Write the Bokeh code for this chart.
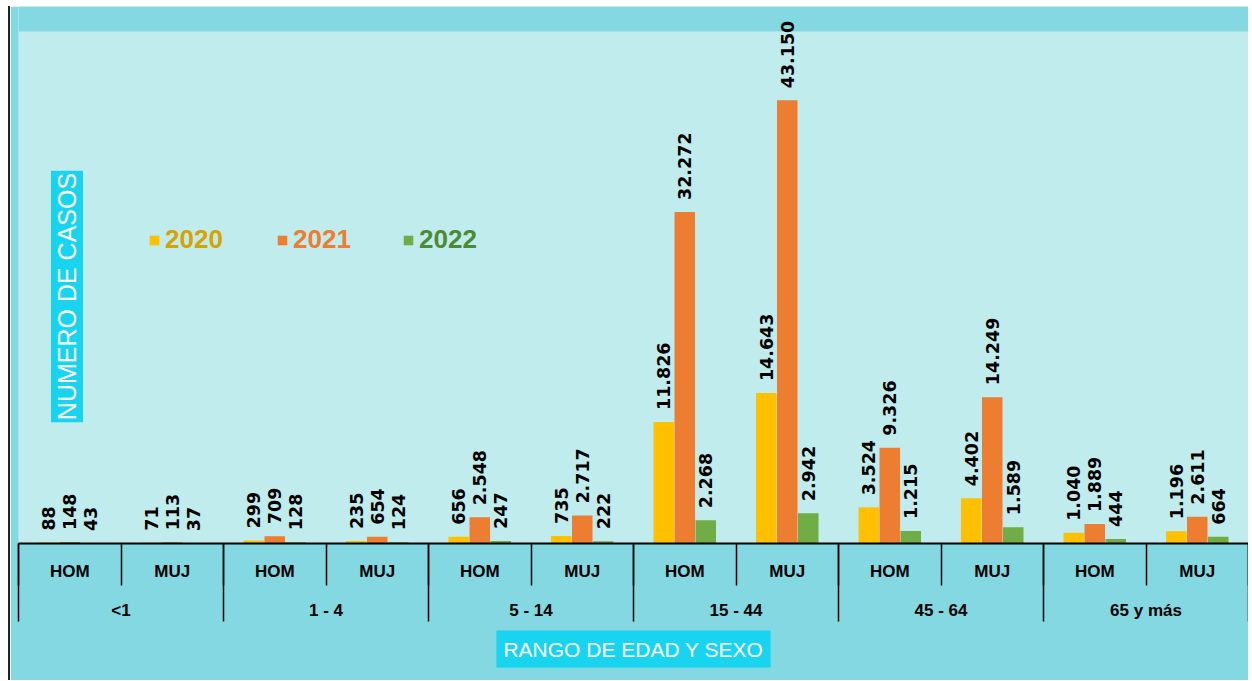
import numpy as np
from bokeh.plotting import figure
from bokeh.models import (ColumnDataSource, Range1d, LinearAxis, FixedTicker, BoxAnnotation,
                          CustomJSTickFormatter, LabelSet, Label, Legend, LegendItem, Title)
from bokeh.core.properties import value
from bokeh.embed import file_html
from bokeh.resources import INLINE

# ---------------- data ----------------
groups = ["<1", "1 - 4", "5 - 14", "15 - 44", "45 - 64", "65 y más"]
sexes = ["HOM", "MUJ"]
years = ["2020", "2021", "2022"]
v2020 = [88, 71, 299, 235, 656, 735, 11826, 14643, 3524, 4402, 1040, 1196]
v2021 = [148, 113, 709, 654, 2548, 2717, 32272, 43150, 9326, 14249, 1889, 2611]
v2022 = [43, 37, 128, 124, 247, 222, 2268, 2942, 1215, 1589, 444, 664]
x_title = "RANGO DE EDAD Y SEXO"
y_title = "NUMERO DE CASOS"

# ---------------- style ----------------
bar_colors = ["#FFC000", "#ED7D31", "#70AD47"]
legend_text_colors = ["#D6A300", "#ED7D31", "#4E8A34"]
legend_x = [130, 258, 384]
offsets = [-0.205, 0.0, 0.205]
FONT = "Liberation Sans"
PANEL_TOP = 49850      # top of the light plot panel (value units)
Y_END = 52280          # extra headroom kept in the outer colour


def fmt(v):
    return f"{v:,}".replace(",", ".")


n = len(groups) * len(sexes)
centers = np.arange(n) + 0.5

p = figure(width=1240, height=674, x_range=Range1d(0, n), y_range=Range1d(0, Y_END),
           x_axis_type=None, y_axis_type=None, output_backend="svg",
           toolbar_location=None, min_border_left=8, min_border_right=2,
           min_border_top=0, min_border_bottom=137)
p.background_fill_color = "#84D8E2"
p.border_fill_color = "#84D8E2"
p.outline_line_color = None
p.styles = {"border-left": "2px solid #222222", "margin-left": "8px", "margin-top": "6px"}

p.add_layout(BoxAnnotation(bottom=0, top=PANEL_TOP, fill_color="#C0ECEE", fill_alpha=1,
                           line_color=None, level="underlay"))

renderers = []
for vals, off, col in zip([v2020, v2021, v2022], offsets, bar_colors):
    src = ColumnDataSource(dict(x=centers + off, top=vals, label=[fmt(v) for v in vals]))
    r = p.vbar(x="x", top="top", bottom=0, width=0.2, source=src,
               fill_color=col, line_color=None)
    renderers.append(r)
    p.add_layout(LabelSet(x="x", y="top", text="label", source=src, angle=np.pi / 2,
                          text_align="left", text_baseline="middle", y_offset=12,
                          text_font=value("DejaVu Sans"), text_font_style="bold",
                          text_font_size="17.5px", text_color="black"))

for r, yr, lx, tc in zip(renderers, years, legend_x, legend_text_colors):
    leg = Legend(items=[LegendItem(label=yr, renderers=[r])], location=(lx, 288),
                 orientation="horizontal", background_fill_alpha=0, border_line_color=None,
                 padding=0, margin=0, glyph_width=12, glyph_height=12, label_standoff=5,
                 label_text_font=FONT, label_text_font_style="bold",
                 label_text_font_size="26px", label_text_color=tc)
    p.add_layout(leg, "center")

sex_labels = sexes * len(groups)
ax1 = LinearAxis(ticker=FixedTicker(ticks=list(centers), minor_ticks=list(range(n + 1))),
                 formatter=CustomJSTickFormatter(args=dict(labels=sex_labels),
                                                 code="return labels[Math.floor(tick)]"))
ax1.axis_line_color = "black"
ax1.axis_line_width = 2
ax1.major_tick_line_color = None
ax1.major_tick_out = 0
ax1.major_tick_in = 0
ax1.minor_tick_line_color = "black"
ax1.minor_tick_line_width = 1.5
ax1.minor_tick_out = 42
ax1.minor_tick_in = 0
ax1.major_label_standoff = -24
ax1.major_label_text_font = FONT
ax1.major_label_text_font_style = "bold"
ax1.major_label_text_font_size = "17px"
ax1.major_label_text_color = "black"

gcenters = list(np.arange(len(groups)) * 2 + 1.0)
ax2 = LinearAxis(ticker=FixedTicker(ticks=gcenters, minor_ticks=list(range(0, n + 1, 2))),
                 formatter=CustomJSTickFormatter(args=dict(labels=groups),
                                                 code="return labels[Math.floor(tick / 2)]"))
ax2.axis_line_color = None
ax2.major_tick_line_color = None
ax2.major_tick_out = 0
ax2.major_tick_in = 0
ax2.minor_tick_line_color = "black"
ax2.minor_tick_line_width = 1.5
ax2.minor_tick_in = 40
ax2.minor_tick_out = 38
ax2.major_label_standoff = -21
ax2.major_label_text_font = FONT
ax2.major_label_text_font_style = "bold"
ax2.major_label_text_font_size = "17px"
ax2.major_label_text_color = "black"

p.add_layout(ax1, "below")
p.add_layout(ax2, "below")

p.add_layout(Title(text=x_title, align="center", text_color="white", text_font=FONT,
                   text_font_size="21px", text_font_style="normal",
                   background_fill_color="#19D4EE", padding=7, standoff=12), "below")
p.add_layout(Label(x=48.5, y=247, x_units="screen", y_units="screen", text=y_title,
                   angle=np.pi / 2, text_align="center", text_baseline="middle",
                   text_color="white", text_font=FONT, text_font_size="25px",
                   background_fill_color="#19D4EE", padding=2))

open("out.html", "w").write(file_html(p, INLINE))
